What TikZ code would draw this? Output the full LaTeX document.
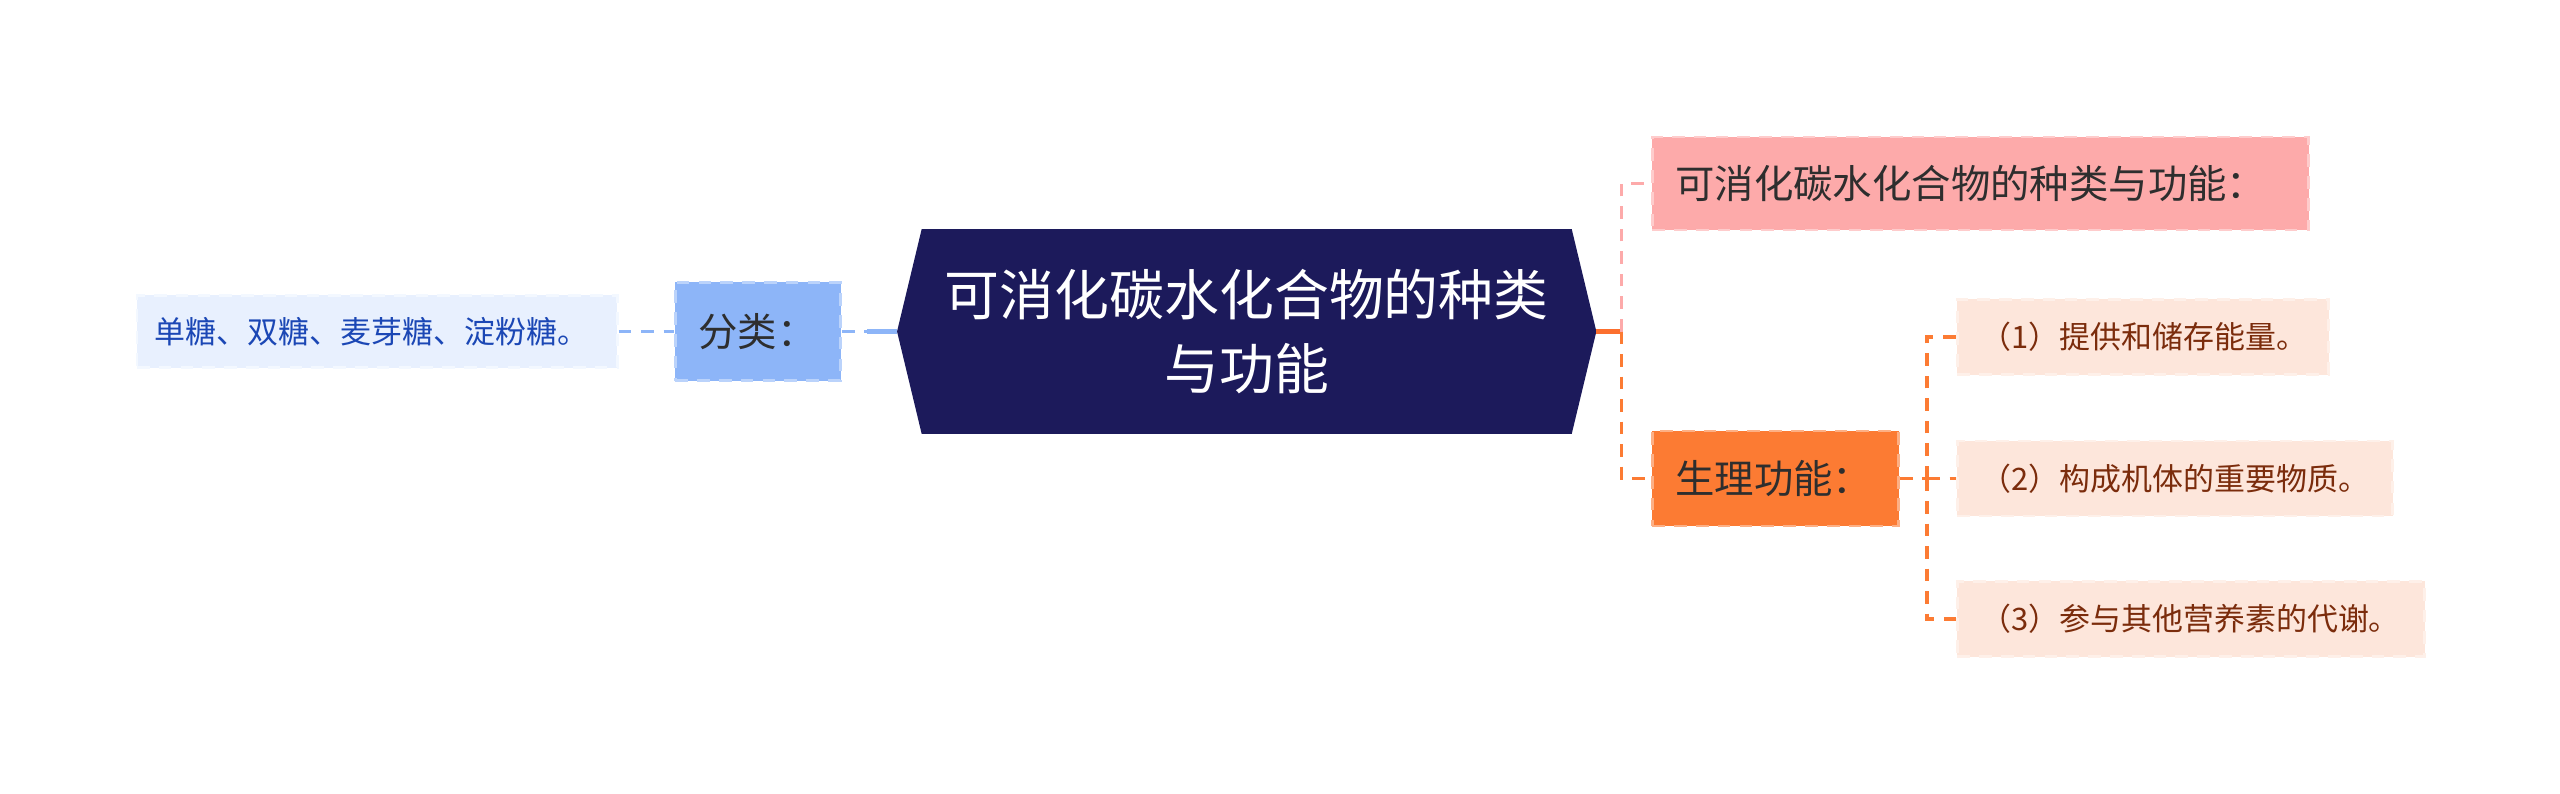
\documentclass[tikz,border=0pt]{standalone}
\usepackage{fontspec}
\setmainfont{Noto Sans CJK SC}
\usepackage{tikz}
\usetikzlibrary{positioning,calc}

\definecolor{rootfill}{HTML}{1C1A5B}
\definecolor{bluefill}{HTML}{8DB5F8}
\definecolor{bluelight}{HTML}{E8F0FE}
\definecolor{bluetext}{HTML}{1B47B5}
\definecolor{pinkfill}{HTML}{FDAAAA}
\definecolor{orangefill}{HTML}{FC7B33}
\definecolor{peachfill}{HTML}{FDE6DB}
\definecolor{browntext}{HTML}{7B2C0C}
\definecolor{darktext}{HTML}{2E2E2E}

\begin{document}
\begin{tikzpicture}[x=0.01cm, y=-0.01cm,
    box/.style={rectangle, anchor=west, align=left, inner xsep=0.23cm, inner ysep=0pt, dash pattern=on 3.6pt off 2.6pt, line width=0.8pt},
    topic/.style={box, font=\fontsize{11.2pt}{13pt}\selectfont, text=darktext},
    leaf/.style={box, font=\fontsize{8.8pt}{10pt}\selectfont, text=browntext, fill=peachfill, draw=peachfill!60!white, minimum height=0.75cm},
    link/.style={line width=0.9pt, dash pattern=on 3.6pt off 2.8pt}]
    \useasboundingbox (0,0) rectangle (2560,794);

    % central topic
    \node [minimum width=6.975cm, minimum height=2.03cm, inner sep=0pt] (root) at (1246.7,331.5) {};
    \fill [rootfill] (root.west) -- ($(root.north west)+(24.6,0)$) -- ($(root.north east)+(-24.6,0)$) -- (root.east) -- ($(root.south east)+(-24.6,0)$) -- ($(root.south west)+(24.6,0)$) -- cycle;
    \node [align=center, text=white, font=\fontsize{15.6pt}{20.9pt}\selectfont] at (root.center) {可消化碳水化合物的种类\\与功能};

    % left branch
    \node [topic, fill=bluefill, draw=bluefill!60!white, minimum height=0.98cm, text width=1.19cm] (kinds) at (674,331.5) {分类：};
    \node [box, fill=bluelight, draw=bluelight!50!white, minimum height=0.72cm, text width=4.44cm, font=\fontsize{8.8pt}{10pt}\selectfont, text=bluetext, inner xsep=0.18cm] (sugars) at (135.5,331.5) {单糖、双糖、麦芽糖、淀粉糖。};

    % right branch
    \node [topic, fill=pinkfill, draw=pinkfill!60!white, minimum height=0.93cm, text width=6.10cm] (title) at (1651,183.5) {可消化碳水化合物的种类与功能：};
    \node [topic, fill=orangefill, draw=orangefill!60!white, minimum height=0.95cm, text width=2.0cm] (func) at (1651,478.5) {生理功能：};

    \node [leaf, text width=3.25cm] (energy) at (1956,337) {（1）提供和储存能量。};
    \node [leaf, text width=3.89cm] (matter) at (1956,478.5) {（2）构成机体的重要物质。};
    \node [leaf, text width=4.21cm] (metab) at (1956,619) {（3）参与其他营养素的代谢。};

    % connectors
    \coordinate (lstub) at ($(root.west)+(-30,0)$);
    \coordinate (hub) at (1621.5,331.5);
    \coordinate (bus) at (1927,478.5);

    \draw [link, bluefill] (sugars.east) -- (kinds.west);
    \draw [link, bluefill] (kinds.east) -- (root.west);
    \draw [bluefill, line width=1.4pt] (lstub) -- (root.west);

    \draw [orangefill!90!red, line width=1.4pt] (root.east) -- (hub);
    \draw [link, pinkfill] (hub) |- (title.west);
    \draw [link, orangefill] (hub) |- (func.west);

    \draw [link, orangefill] (func.east) -- (bus);
    \foreach \leafname in {energy, matter, metab}
        \draw [link, orangefill] (bus) |- (\leafname.west);
\end{tikzpicture}
\end{document}
